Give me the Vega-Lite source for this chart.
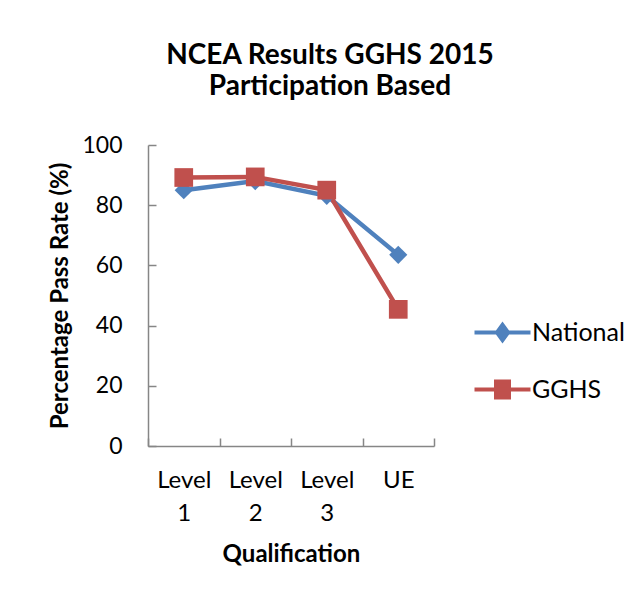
{
  "$schema": "https://vega.github.io/schema/vega-lite/v6.json",
  "width": 286,
  "height": 301,
  "autosize": {"type": "none"},
  "padding": {"left": 148, "top": 145, "right": 205, "bottom": 148},
  "background": "white",
  "title": {
    "text": ["NCEA Results GGHS 2015", "Participation Based"],
    "font": "Lato",
    "fontSize": 28,
    "fontWeight": "bold",
    "color": "black",
    "lineHeight": 31,
    "anchor": "middle",
    "frame": "group",
    "dx": 39,
    "offset": 33
  },
  "data": {
    "values": [
      {"qualification": "Level 1", "series": "National", "rate": 85.0},
      {"qualification": "Level 2", "series": "National", "rate": 88.0},
      {"qualification": "Level 3", "series": "National", "rate": 83.1},
      {"qualification": "UE", "series": "National", "rate": 63.5},
      {"qualification": "Level 1", "series": "GGHS", "rate": 89.2},
      {"qualification": "Level 2", "series": "GGHS", "rate": 89.4},
      {"qualification": "Level 3", "series": "GGHS", "rate": 85.0},
      {"qualification": "UE", "series": "GGHS", "rate": 45.4}
    ]
  },
  "encoding": {
    "x": {
      "field": "qualification",
      "type": "nominal",
      "sort": ["Level 1", "Level 2", "Level 3", "UE"],
      "scale": {"type": "band", "paddingInner": 0, "paddingOuter": 0},
      "title": "Qualification",
      "axis": {
        "tickBand": "extent",
        "tickSize": -8,
        "tickColor": "#868686",
        "tickWidth": 1.5,
        "domainColor": "#868686",
        "domainWidth": 1.5,
        "labelFont": "Lato",
        "labelFontSize": 24,
        "labelColor": "black",
        "labelAngle": 0,
        "labelPadding": 30,
        "labelLineHeight": 33,
        "labelBaseline": "top",
        "labelExpr": "split(datum.label, ' ')",
        "titleFont": "Lato",
        "titleFontSize": 24,
        "titleFontWeight": "bold",
        "titleColor": "black",
        "titleBaseline": "alphabetic",
        "titleY": 115,
        "grid": false
      }
    },
    "y": {
      "field": "rate",
      "type": "quantitative",
      "scale": {"domain": [0, 100]},
      "title": "Percentage Pass Rate (%)",
      "axis": {
        "values": [0, 20, 40, 60, 80, 100],
        "tickSize": -8,
        "tickColor": "#868686",
        "tickWidth": 1.5,
        "domainColor": "#868686",
        "domainWidth": 1.5,
        "labelFont": "Lato",
        "labelFontSize": 23,
        "labelColor": "black",
        "labelPadding": 34,
        "labelBaseline": "middle",
        "titleFont": "Lato",
        "titleFontSize": 24,
        "titleFontWeight": "bold",
        "titleColor": "black",
        "titleBaseline": "alphabetic",
        "titleX": -81,
        "grid": false
      }
    },
    "color": {
      "field": "series",
      "type": "nominal",
      "scale": {"domain": ["National", "GGHS"], "range": ["#4F81BD", "#C0504D"]},
      "legend": {
        "orient": "none",
        "legendX": 342,
        "legendY": 175,
        "title": null,
        "padding": 0,
        "symbolSize": 400,
        "symbolStrokeWidth": 4,
        "labelOffset": 17,
        "labelFont": "Lato",
        "labelFontSize": 25,
        "labelColor": "black",
        "rowPadding": 25,
        "encoding": {
          "symbols": {
            "shape": {"value": {"expr": "datum.value === 'National' ? 'M-2.8,0H2.8M-0.55,0L0,-0.75L0.55,0L0,0.75Z' : 'M-2.8,0H2.8M-0.65,-0.8H0.65V0.8H-0.65Z'"}},
            "stroke": {"value": {"expr": "scale('color', datum.value)"}},
            "fill": {"value": {"expr": "scale('color', datum.value)"}},
            "strokeWidth": {"value": 4}
          }
        }
      }
    }
  },
  "layer": [
    {"mark": {"type": "line", "strokeWidth": 4.5}},
    {
      "transform": [{"filter": "datum.series === 'National'"}],
      "mark": {"type": "point", "filled": true, "opacity": 1, "size": 330, "shape": "diamond"}
    },
    {
      "transform": [{"filter": "datum.series === 'GGHS'"}],
      "mark": {"type": "point", "filled": true, "opacity": 1, "size": 350, "shape": "square"}
    }
  ],
  "config": {"view": {"stroke": null}}
}
